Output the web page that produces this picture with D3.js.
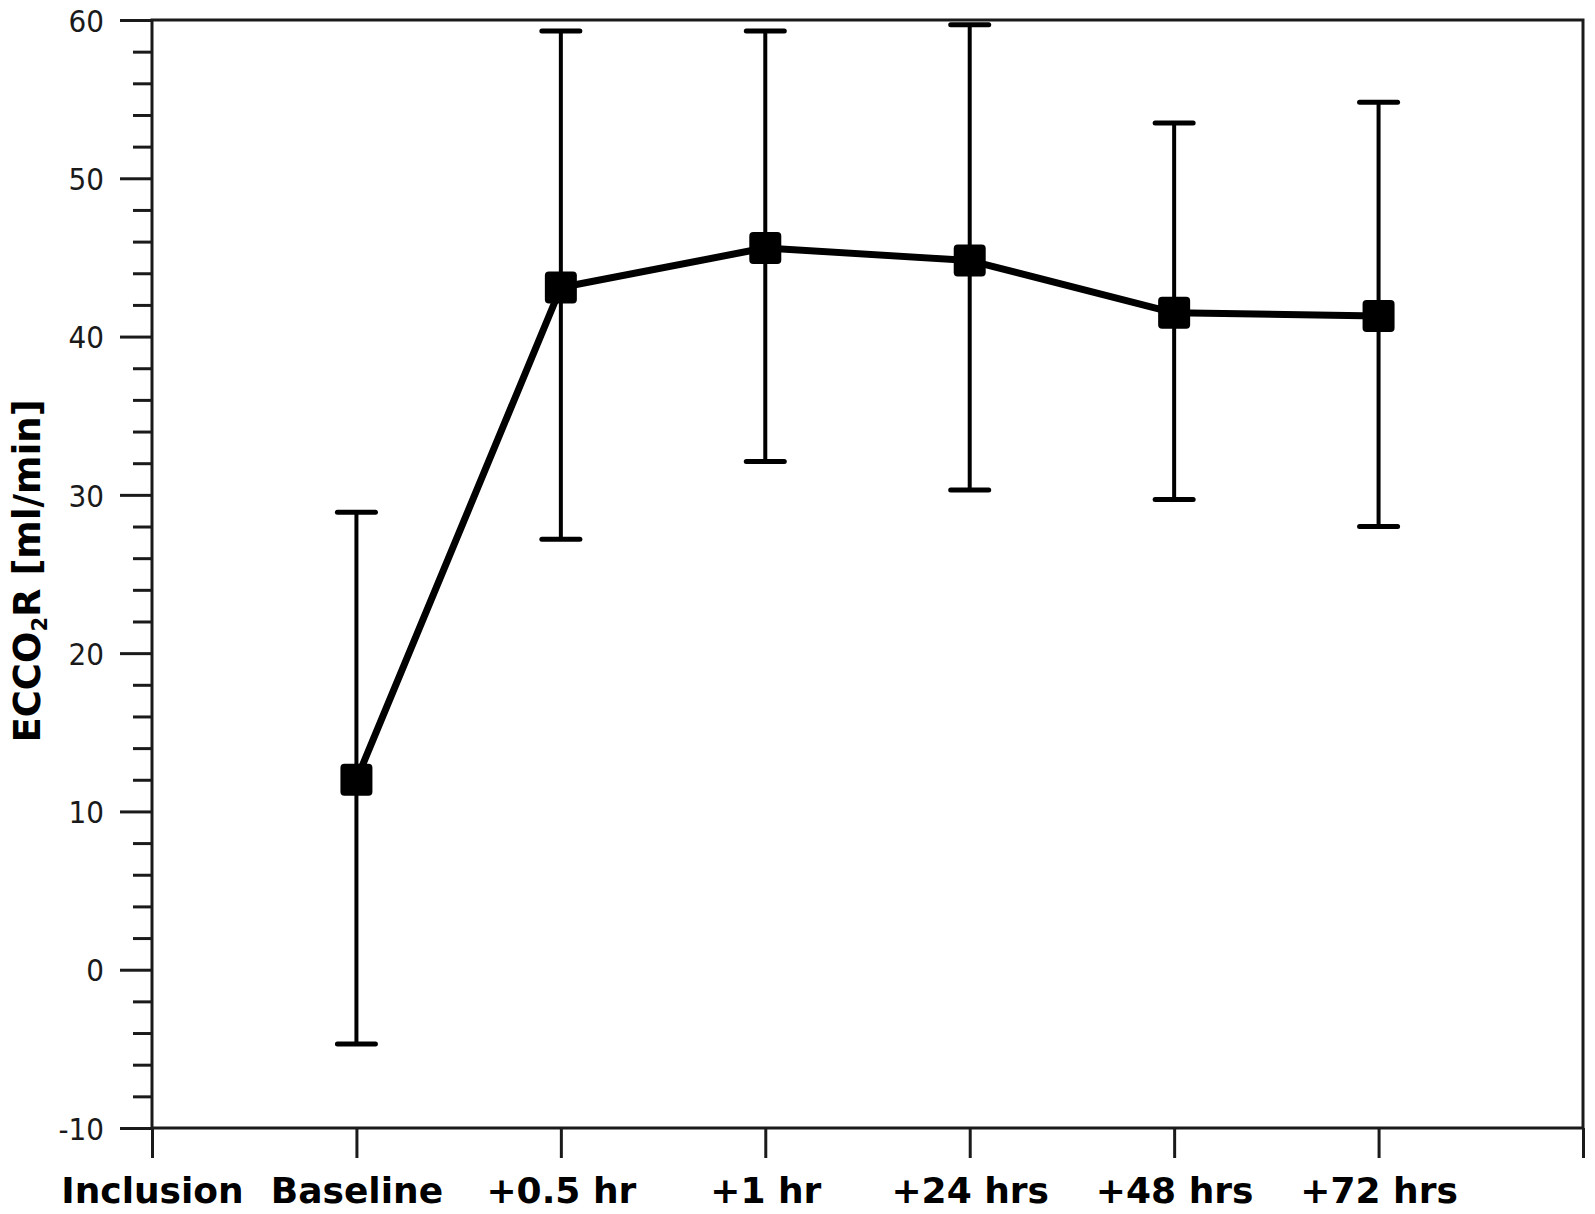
<!DOCTYPE html>
<html>
<head>
<meta charset="utf-8">
<script src="https://cdn.jsdelivr.net/npm/d3@7"></script>
<style>
    body { margin: 0; background: #fff; }
    svg { display: block; }
</style>
</head>
<body>
<div id="chart"></div>
<script>
const categories = ['Inclusion', 'Baseline', '+0.5 hr', '+1 hr', '+24 hrs', '+48 hrs', '+72 hrs', ''];
const pointCats = ['Baseline', '+0.5 hr', '+1 hr', '+24 hrs', '+48 hrs', '+72 hrs'];
const meanValues = [12.0, 43.1, 45.6, 44.8, 41.5, 41.3];
const upperValues = [28.9, 59.3, 59.3, 59.7, 53.5, 54.8];
const lowerValues = [-4.7, 27.2, 32.1, 30.3, 29.7, 28.0];
const yTicks = [-10, 0, 10, 20, 30, 40, 50, 60];

function renderChart() {
    const W = 1595, H = 1214;
    const margin = {top: 20, right: 10, bottom: 86, left: 152};
    const width = W - margin.left - margin.right;
    const height = H - margin.top - margin.bottom;

    const svg = d3.select('#chart')
        .append('svg')
        .attr('width', W)
        .attr('height', H)
        .append('g')
        .attr('transform', `translate(${margin.left},${margin.top})`);

    const x = d3.scalePoint()
        .domain(categories)
        .range([0, width - 2]);

    const y = d3.scaleLinear()
        .domain([-10, 60])
        .range([height, 0]);

    const axisColor = '#1a1a1a';

    // frame
    svg.append('rect')
        .attr('x', 0)
        .attr('y', 0)
        .attr('width', width - 2)
        .attr('height', height)
        .attr('fill', 'none')
        .attr('stroke', axisColor)
        .attr('stroke-width', 3);

    // minor y ticks
    const minor = d3.range(-10, 60.1, 2).filter(v => v % 10 !== 0);
    svg.append('g')
        .call(d3.axisLeft(y).tickValues(minor).tickSize(19).tickFormat(''))
        .call(g => g.select('.domain').remove())
        .selectAll('line')
        .attr('stroke', axisColor)
        .attr('stroke-width', 3);

    // major y ticks
    const yAxis = svg.append('g')
        .call(d3.axisLeft(y).tickValues(yTicks).tickSize(32).tickPadding(16).tickFormat(d => String(d)));
    yAxis.select('.domain').remove();
    yAxis.selectAll('line')
        .attr('stroke', axisColor)
        .attr('stroke-width', 3);
    yAxis.selectAll('text')
        .style('font-family', '"DejaVu Sans Condensed", "DejaVu Sans", sans-serif')
        .style('font-size', '31px')
        .style('fill', axisColor)
        .attr('dy', '0.36em');

    // x ticks
    const xAxis = svg.append('g')
        .attr('transform', `translate(0,${height})`)
        .call(d3.axisBottom(x).tickSize(30).tickPadding(19));
    xAxis.select('.domain').remove();
    xAxis.selectAll('line')
        .attr('stroke', axisColor)
        .attr('stroke-width', 3);
    xAxis.selectAll('text')
        .style('font-family', '"DejaVu Sans", sans-serif')
        .style('font-weight', 'bold')
        .style('font-size', '36px')
        .style('fill', '#000')
        .attr('dy', '0.71em');

    // y label
    const yLabel = svg.append('text')
        .attr('transform', `translate(${27 - margin.left},${571 - margin.top}) rotate(-90)`)
        .attr('text-anchor', 'middle')
        .attr('dy', '0.36em')
        .style('font-family', '"DejaVu Sans", sans-serif')
        .style('font-weight', 'bold')
        .style('font-size', '37px')
        .style('fill', '#000');
    yLabel.append('tspan').text('ECCO');
    yLabel.append('tspan').text('2').style('font-size', '21px').attr('dy', '0.3em');
    yLabel.append('tspan').text('R [ml/min]').attr('dy', '-0.18em');

    const data = pointCats.map((c, i) => ({
        cat: c, mean: meanValues[i], upper: upperValues[i], lower: lowerValues[i]
    }));

    // error bars
    const bars = svg.append('g');
    bars.selectAll('.err')
        .data(data)
        .enter()
        .append('line')
        .attr('x1', d => x(d.cat))
        .attr('x2', d => x(d.cat))
        .attr('y1', d => y(d.upper))
        .attr('y2', d => y(d.lower))
        .attr('stroke', '#000')
        .attr('stroke-width', 4);

    ['upper', 'lower'].forEach(key => {
        bars.selectAll('.cap-' + key)
            .data(data)
            .enter()
            .append('line')
            .attr('x1', d => x(d.cat) - 19)
            .attr('x2', d => x(d.cat) + 19)
            .attr('y1', d => y(d[key]))
            .attr('y2', d => y(d[key]))
            .attr('stroke', '#000')
            .attr('stroke-width', 5)
            .attr('stroke-linecap', 'round');
    });

    // mean line
    const line = d3.line()
        .x(d => x(d.cat))
        .y(d => y(d.mean));

    svg.append('path')
        .datum(data)
        .attr('d', line)
        .attr('fill', 'none')
        .attr('stroke', '#000')
        .attr('stroke-width', 7)
        .attr('stroke-linejoin', 'round');

    // markers
    svg.selectAll('.marker')
        .data(data)
        .enter()
        .append('rect')
        .attr('x', d => x(d.cat) - 16)
        .attr('y', d => y(d.mean) - 16)
        .attr('width', 32)
        .attr('height', 32)
        .attr('rx', 4)
        .attr('fill', '#000');
}

document.addEventListener('DOMContentLoaded', renderChart);
</script>
</body>
</html>
